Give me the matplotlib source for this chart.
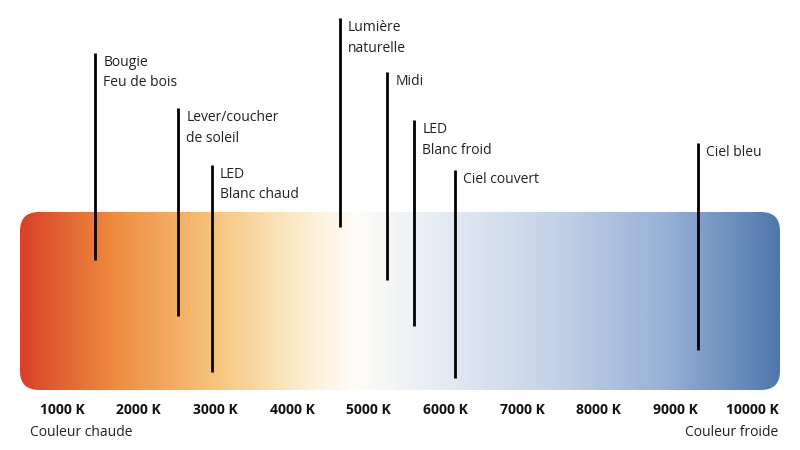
import numpy as np
import matplotlib
matplotlib.use("Agg")
import matplotlib.pyplot as plt
from matplotlib.patches import FancyBboxPatch
from matplotlib.colors import LinearSegmentedColormap

plt.rcParams['font.family'] = ['Open Sans', 'DejaVu Sans']

tick_values = [1000, 2000, 3000, 4000, 5000, 6000, 7000, 8000, 9000, 10000]
tick_labels = ["1000 K", "2000 K", "3000 K", "4000 K", "5000 K", "6000 K",
               "7000 K", "8000 K", "9000 K", "10000 K"]
sources = ["Bougie\nFeu de bois", "Lever/coucher\nde soleil", "LED\nBlanc chaud",
           "Lumière\nnaturelle", "Midi", "LED\nBlanc froid", "Ciel couvert", "Ciel bleu"]
kelvins = [1430, 2510, 2950, 4620, 5240, 5590, 6120, 9290]
line_tops = [53, 108, 165, 18, 72, 120, 170, 143]
line_bottoms = [260, 316, 372, 227, 280, 326, 378, 350]

def k(px):
    return 1000 + (px - 62) * 1000 / 76.7

fig = plt.figure(figsize=(8, 4.5), dpi=100)
ax = fig.add_axes([0, 0, 1, 1])
ax.set_xlim(k(0), k(800))
ax.set_ylim(450, 0)
ax.axis('off')

cmap = LinearSegmentedColormap.from_list("ct", [
    (0.0, "#d9412a"), (0.12, "#ef8a3e"), (0.25, "#f6c27a"), (0.36, "#fbe9c6"),
    (0.44, "#fffdf8"), (0.55, "#e6ecf4"), (0.7, "#c5d3e7"), (0.85, "#98b1d6"),
    (1.0, "#4f78ad")])
grad = np.linspace(0, 1, 512).reshape(1, -1)
x0, x1, y0, y1 = k(20), k(780), 212, 390
im = ax.imshow(grad, cmap=cmap, aspect='auto', extent=[x0, x1, y1, y0], zorder=1)
box = FancyBboxPatch((x0, y0), x1 - x0, y1 - y0,
                     boxstyle="round,pad=0,rounding_size=250",
                     mutation_aspect=0.075, transform=ax.transData,
                     facecolor='none', edgecolor='none')
ax.add_patch(box)
im.set_clip_path(box)

for name, kv, t, b in zip(sources, kelvins, line_tops, line_bottoms):
    ax.plot([kv, kv], [t, b], color='black', lw=2, zorder=3, solid_capstyle='butt')
    ax.text(kv + 110, t + 2, name, fontsize=10, va='top', ha='left',
            color='#222222', linespacing=1.5, zorder=4)

for tv, tl in zip(tick_values, tick_labels):
    ax.text(tv, 410, tl, fontsize=10, fontweight='bold', ha='center', va='center',
            color='#111111')
ax.text(k(30), 432, "Couleur chaude", fontsize=10, ha='left', va='center', color='#222222')
ax.text(k(778), 432, "Couleur froide", fontsize=10, ha='right', va='center', color='#222222')

fig.savefig("out.png", dpi=100)
